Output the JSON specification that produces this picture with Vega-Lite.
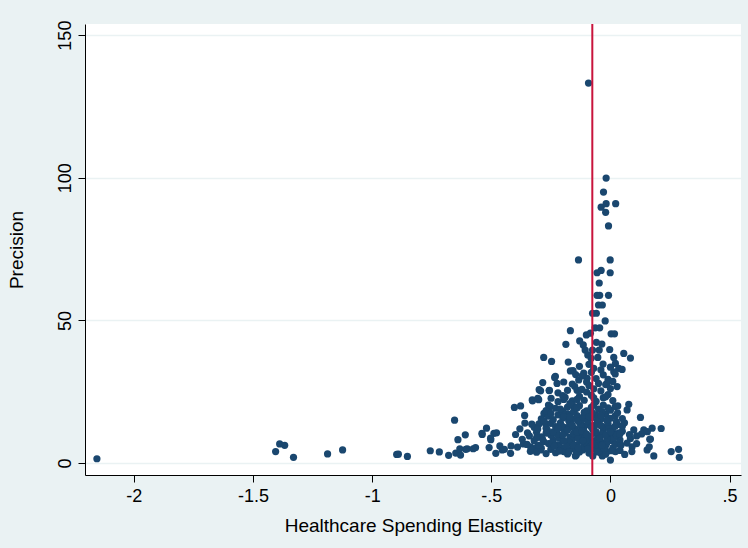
{
  "$schema": "https://vega.github.io/schema/vega-lite/v6.json",
  "width": 656,
  "height": 451,
  "autosize": "none",
  "padding": {"left": 85, "top": 24, "right": 7, "bottom": 73},
  "background": "#eaf2f3",
  "config": {
    "view": {"fill": "white", "stroke": null},
    "font": "Liberation Sans"
  },
  "layer": [
    {
      "data": {"values": [
        {"elasticity": -2.155, "precision": 1.5}, {"elasticity": -1.405, "precision": 4.0}, {"elasticity": -1.388, "precision": 6.7}, {"elasticity": -1.367, "precision": 6.2}, {"elasticity": -1.33, "precision": 2.0}, {"elasticity": -1.187, "precision": 3.2}, {"elasticity": -1.124, "precision": 4.6}, {"elasticity": -0.897, "precision": 3.0}, {"elasticity": -0.89, "precision": 3.1}, {"elasticity": -0.852, "precision": 2.3}, {"elasticity": -0.756, "precision": 4.3}, {"elasticity": -0.718, "precision": 3.9}, {"elasticity": -0.679, "precision": 2.7}, {"elasticity": -0.654, "precision": 15.0}, {"elasticity": -0.64, "precision": 8.2}, {"elasticity": -0.649, "precision": 3.5}, {"elasticity": -0.629, "precision": 2.8}, {"elasticity": -0.632, "precision": 5.0}, {"elasticity": -0.609, "precision": 9.9}, {"elasticity": -0.607, "precision": 4.8}, {"elasticity": -0.601, "precision": 5.0}, {"elasticity": -0.576, "precision": 5.0}, {"elasticity": -0.566, "precision": 5.4}, {"elasticity": -0.538, "precision": 10.0}, {"elasticity": -0.52, "precision": 12.2}, {"elasticity": -0.509, "precision": 5.4}, {"elasticity": -0.502, "precision": 8.2}, {"elasticity": -0.489, "precision": 10.4}, {"elasticity": -0.478, "precision": 10.6}, {"elasticity": -0.481, "precision": 3.4}, {"elasticity": -0.464, "precision": 6.0}, {"elasticity": -0.454, "precision": 4.6}, {"elasticity": -0.445, "precision": 4.8}, {"elasticity": -0.419, "precision": 3.4}, {"elasticity": -0.417, "precision": 6.0}, {"elasticity": -0.403, "precision": 19.5}, {"elasticity": -0.377, "precision": 20.0}, {"elasticity": -0.398, "precision": 10.0}, {"elasticity": -0.39, "precision": 5.6}, {"elasticity": -0.365, "precision": 6.7}, {"elasticity": -0.359, "precision": 14.0}, {"elasticity": -0.348, "precision": 10.6}, {"elasticity": -0.336, "precision": 4.1}, {"elasticity": -0.335, "precision": 5.7}, {"elasticity": -0.307, "precision": 5.7}, {"elasticity": -0.293, "precision": 4.6}, {"elasticity": -0.327, "precision": 21.8}, {"elasticity": -0.301, "precision": 22.2}, {"elasticity": -0.299, "precision": 25.7}, {"elasticity": -0.284, "precision": 28.2}, {"elasticity": -0.257, "precision": 25.4}, {"elasticity": -0.252, "precision": 19.8}, {"elasticity": -0.231, "precision": 30.4}, {"elasticity": -0.224, "precision": 27.9}, {"elasticity": -0.279, "precision": 17.4}, {"elasticity": -0.273, "precision": 13.9},
        {"elasticity": -0.092, "precision": 133.2}, {"elasticity": -0.018, "precision": 99.9}, {"elasticity": -0.029, "precision": 95.0}, {"elasticity": -0.039, "precision": 89.7}, {"elasticity": -0.018, "precision": 90.9}, {"elasticity": 0.022, "precision": 90.9}, {"elasticity": -0.02, "precision": 87.9}, {"elasticity": -0.008, "precision": 83.1}, {"elasticity": -0.134, "precision": 71.2}, {"elasticity": -0.001, "precision": 71.2}, {"elasticity": -0.039, "precision": 67.5}, {"elasticity": -0.056, "precision": 66.7}, {"elasticity": -0.001, "precision": 66.7}, {"elasticity": -0.047, "precision": 63.1}, {"elasticity": -0.056, "precision": 58.8}, {"elasticity": -0.045, "precision": 58.8}, {"elasticity": -0.008, "precision": 58.8}, {"elasticity": -0.05, "precision": 55.4}, {"elasticity": -0.034, "precision": 55.4}, {"elasticity": -0.075, "precision": 52.5}, {"elasticity": -0.059, "precision": 52.5}, {"elasticity": -0.022, "precision": 49.8}, {"elasticity": -0.168, "precision": 46.4}, {"elasticity": -0.064, "precision": 47.4}, {"elasticity": -0.045, "precision": 47.4}, {"elasticity": 0.003, "precision": 45.3}, {"elasticity": 0.017, "precision": 45.3}, {"elasticity": -0.101, "precision": 44.9}, {"elasticity": -0.084, "precision": 45.5}, {"elasticity": -0.129, "precision": 42.8}, {"elasticity": -0.114, "precision": 41.4}, {"elasticity": -0.059, "precision": 42.3}, {"elasticity": -0.036, "precision": 41.7}, {"elasticity": -0.187, "precision": 41.6}, {"elasticity": -0.106, "precision": 39.6}, {"elasticity": -0.075, "precision": 39.6}, {"elasticity": -0.047, "precision": 39.6}, {"elasticity": -0.003, "precision": 39.8}, {"elasticity": -0.095, "precision": 37.9}, {"elasticity": -0.081, "precision": 36.7}, {"elasticity": -0.053, "precision": 37.0}, {"elasticity": 0.014, "precision": 37.0}, {"elasticity": 0.056, "precision": 38.4}, {"elasticity": 0.084, "precision": 36.8}, {"elasticity": -0.28, "precision": 37.0}, {"elasticity": -0.247, "precision": 35.6}, {"elasticity": -0.177, "precision": 35.4}, {"elasticity": 0.021, "precision": 34.9}, {"elasticity": -0.07, "precision": 33.2}, {"elasticity": -0.031, "precision": 34.7}, {"elasticity": 0.035, "precision": 33.2}, {"elasticity": 0.049, "precision": 32.8}, {"elasticity": -0.157, "precision": 32.4}, {"elasticity": -0.112, "precision": 31.5}, {"elasticity": 0.014, "precision": 32.0}, {"elasticity": -0.146, "precision": 31.0},
        {"elasticity": -0.234, "precision": 30.0}, {"elasticity": -0.196, "precision": 28.4}, {"elasticity": -0.168, "precision": 32.3}, {"elasticity": -0.133, "precision": 29.1}, {"elasticity": -0.098, "precision": 29.7}, {"elasticity": -0.014, "precision": 27.9}, {"elasticity": 0.028, "precision": 26.8}, {"elasticity": -0.293, "precision": 25.3}, {"elasticity": -0.256, "precision": 25.5}, {"elasticity": -0.328, "precision": 22.1}, {"elasticity": -0.305, "precision": 22.7}, {"elasticity": -0.249, "precision": 22.7}, {"elasticity": -0.196, "precision": 22.3}, {"elasticity": -0.14, "precision": 25.5}, {"elasticity": -0.154, "precision": 19.9}, {"elasticity": 0.031, "precision": 20.0}, {"elasticity": 0.077, "precision": 20.6}, {"elasticity": 0.126, "precision": 16.0}, {"elasticity": 0.059, "precision": 14.1}, {"elasticity": 0.098, "precision": 11.6}, {"elasticity": 0.14, "precision": 11.6}, {"elasticity": 0.175, "precision": 12.2}, {"elasticity": 0.213, "precision": 12.1}, {"elasticity": 0.165, "precision": 8.3}, {"elasticity": 0.154, "precision": 4.6}, {"elasticity": 0.182, "precision": 2.5}, {"elasticity": 0.255, "precision": 4.0}, {"elasticity": 0.286, "precision": 4.8}, {"elasticity": 0.289, "precision": 2.0}, {"elasticity": 0.0, "precision": 1.05}, {"elasticity": -0.039, "precision": 3.4}, {"elasticity": -0.143, "precision": 2.8}, {"elasticity": -0.196, "precision": 4.0}, {"elasticity": -0.539, "precision": 10.4}, {"elasticity": -0.503, "precision": 8.7}, {"elasticity": 0.131, "precision": 10.2}, {"elasticity": 0.155, "precision": 11.0}, {"elasticity": 0.168, "precision": 8.4}, {"elasticity": 0.163, "precision": 5.7}, {"elasticity": 0.084, "precision": 8.6}, {"elasticity": 0.091, "precision": 5.7}, {"elasticity": 0.035, "precision": 10.6}, {"elasticity": -0.034, "precision": 2.5}, {"elasticity": -0.074, "precision": 2.5}, {"elasticity": -0.116, "precision": 4.6}, {"elasticity": -0.147, "precision": 2.5}, {"elasticity": -0.192, "precision": 4.6}, {"elasticity": -0.049, "precision": 4.0}, {"elasticity": -0.014, "precision": 4.0}, {"elasticity": 0.021, "precision": 4.0}, {"elasticity": 0.025, "precision": 6.7}, {"elasticity": 0.07, "precision": 18.6},
        {"elasticity": -0.33, "precision": 4.5}, {"elasticity": -0.31, "precision": 3.8}, {"elasticity": -0.29, "precision": 5.2}, {"elasticity": -0.27, "precision": 3.3}, {"elasticity": -0.25, "precision": 4.8}, {"elasticity": -0.23, "precision": 3.6}, {"elasticity": -0.21, "precision": 5.5}, {"elasticity": -0.18, "precision": 3.2}, {"elasticity": -0.16, "precision": 5.0}, {"elasticity": -0.13, "precision": 3.9}, {"elasticity": -0.11, "precision": 5.8}, {"elasticity": -0.09, "precision": 3.5}, {"elasticity": -0.07, "precision": 4.9}, {"elasticity": -0.05, "precision": 5.6}, {"elasticity": -0.02, "precision": 3.1}, {"elasticity": 0.01, "precision": 5.3}, {"elasticity": 0.04, "precision": 4.4}, {"elasticity": 0.06, "precision": 3.0}, {"elasticity": 0.09, "precision": 4.0},
        {"elasticity": -0.35, "precision": 6.5}, {"elasticity": -0.32, "precision": 7.8}, {"elasticity": -0.3, "precision": 6.2}, {"elasticity": -0.28, "precision": 7.5}, {"elasticity": -0.26, "precision": 6.8}, {"elasticity": -0.24, "precision": 8.1}, {"elasticity": -0.22, "precision": 6.4}, {"elasticity": -0.2, "precision": 7.7}, {"elasticity": -0.18, "precision": 6.9}, {"elasticity": -0.16, "precision": 8.2}, {"elasticity": -0.14, "precision": 6.3}, {"elasticity": -0.12, "precision": 7.6}, {"elasticity": -0.1, "precision": 6.7}, {"elasticity": -0.08, "precision": 8.0}, {"elasticity": -0.06, "precision": 6.5}, {"elasticity": -0.04, "precision": 7.4}, {"elasticity": -0.02, "precision": 6.1}, {"elasticity": 0.0, "precision": 7.9}, {"elasticity": 0.02, "precision": 6.6}, {"elasticity": 0.04, "precision": 8.1}, {"elasticity": 0.07, "precision": 7.0}, {"elasticity": 0.11, "precision": 6.8},
        {"elasticity": -0.34, "precision": 9.5}, {"elasticity": -0.31, "precision": 10.8}, {"elasticity": -0.29, "precision": 9.2}, {"elasticity": -0.27, "precision": 10.5}, {"elasticity": -0.25, "precision": 9.8}, {"elasticity": -0.23, "precision": 11.2}, {"elasticity": -0.21, "precision": 9.4}, {"elasticity": -0.19, "precision": 10.6}, {"elasticity": -0.17, "precision": 9.1}, {"elasticity": -0.15, "precision": 11.0}, {"elasticity": -0.13, "precision": 9.7}, {"elasticity": -0.11, "precision": 10.9}, {"elasticity": -0.09, "precision": 9.3}, {"elasticity": -0.07, "precision": 10.4}, {"elasticity": -0.05, "precision": 9.6}, {"elasticity": -0.03, "precision": 11.3}, {"elasticity": -0.01, "precision": 9.0}, {"elasticity": 0.01, "precision": 10.7}, {"elasticity": 0.03, "precision": 9.4}, {"elasticity": 0.05, "precision": 11.1}, {"elasticity": 0.08, "precision": 10.0}, {"elasticity": 0.11, "precision": 9.5},
        {"elasticity": -0.32, "precision": 12.5}, {"elasticity": -0.3, "precision": 13.7}, {"elasticity": -0.27, "precision": 12.2}, {"elasticity": -0.25, "precision": 13.9}, {"elasticity": -0.23, "precision": 12.8}, {"elasticity": -0.21, "precision": 14.1}, {"elasticity": -0.19, "precision": 12.4}, {"elasticity": -0.17, "precision": 13.6}, {"elasticity": -0.15, "precision": 12.1}, {"elasticity": -0.13, "precision": 14.3}, {"elasticity": -0.11, "precision": 12.9}, {"elasticity": -0.09, "precision": 13.4}, {"elasticity": -0.07, "precision": 12.3}, {"elasticity": -0.05, "precision": 14.0}, {"elasticity": -0.03, "precision": 12.7}, {"elasticity": -0.01, "precision": 13.8}, {"elasticity": 0.01, "precision": 12.2}, {"elasticity": 0.03, "precision": 13.5}, {"elasticity": 0.05, "precision": 12.9},
        {"elasticity": -0.29, "precision": 15.5}, {"elasticity": -0.26, "precision": 16.4}, {"elasticity": -0.24, "precision": 15.2}, {"elasticity": -0.22, "precision": 16.9}, {"elasticity": -0.2, "precision": 15.8}, {"elasticity": -0.18, "precision": 17.2}, {"elasticity": -0.16, "precision": 15.4}, {"elasticity": -0.14, "precision": 16.6}, {"elasticity": -0.12, "precision": 15.1}, {"elasticity": -0.1, "precision": 17.0}, {"elasticity": -0.08, "precision": 15.9}, {"elasticity": -0.06, "precision": 16.8}, {"elasticity": -0.04, "precision": 15.3}, {"elasticity": -0.02, "precision": 17.1}, {"elasticity": 0.0, "precision": 15.7}, {"elasticity": 0.02, "precision": 16.5}, {"elasticity": 0.05, "precision": 15.6},
        {"elasticity": -0.27, "precision": 18.4}, {"elasticity": -0.23, "precision": 19.2}, {"elasticity": -0.2, "precision": 18.1}, {"elasticity": -0.18, "precision": 19.6}, {"elasticity": -0.15, "precision": 18.7}, {"elasticity": -0.13, "precision": 20.1}, {"elasticity": -0.1, "precision": 18.3}, {"elasticity": -0.08, "precision": 19.5}, {"elasticity": -0.05, "precision": 18.9}, {"elasticity": -0.03, "precision": 20.3}, {"elasticity": 0.0, "precision": 18.5}, {"elasticity": 0.02, "precision": 19.8},
        {"elasticity": -0.22, "precision": 21.5}, {"elasticity": -0.19, "precision": 23.0}, {"elasticity": -0.16, "precision": 21.8}, {"elasticity": -0.13, "precision": 23.4}, {"elasticity": -0.11, "precision": 22.0}, {"elasticity": -0.08, "precision": 23.8}, {"elasticity": -0.06, "precision": 21.6}, {"elasticity": -0.03, "precision": 22.9}, {"elasticity": -0.01, "precision": 24.0}, {"elasticity": 0.01, "precision": 21.9},
        {"elasticity": -0.18, "precision": 25.5}, {"elasticity": -0.15, "precision": 26.9}, {"elasticity": -0.12, "precision": 25.8}, {"elasticity": -0.09, "precision": 27.2}, {"elasticity": -0.07, "precision": 26.0}, {"elasticity": -0.04, "precision": 25.3}, {"elasticity": -0.02, "precision": 27.5}, {"elasticity": 0.0, "precision": 26.1},
        {"elasticity": -0.12, "precision": 30.5}, {"elasticity": -0.08, "precision": 31.8}, {"elasticity": -0.06, "precision": 29.6}, {"elasticity": -0.03, "precision": 30.9}, {"elasticity": -0.01, "precision": 29.3}, {"elasticity": 0.02, "precision": 31.2},
        {"elasticity": -0.215, "precision": 8.7}, {"elasticity": -0.195, "precision": 11.8}, {"elasticity": -0.175, "precision": 7.3}, {"elasticity": -0.155, "precision": 10.2}, {"elasticity": -0.135, "precision": 8.6}, {"elasticity": -0.115, "precision": 11.7}, {"elasticity": -0.095, "precision": 7.2}, {"elasticity": -0.075, "precision": 11.9}, {"elasticity": -0.055, "precision": 8.4}, {"elasticity": -0.035, "precision": 10.1}, {"elasticity": -0.015, "precision": 7.0}, {"elasticity": 0.005, "precision": 11.5}, {"elasticity": -0.205, "precision": 13.1}, {"elasticity": -0.185, "precision": 5.8}, {"elasticity": -0.165, "precision": 12.8}, {"elasticity": -0.145, "precision": 4.4}, {"elasticity": -0.125, "precision": 13.0}, {"elasticity": -0.105, "precision": 8.9}, {"elasticity": -0.085, "precision": 5.9}, {"elasticity": -0.065, "precision": 13.2}, {"elasticity": -0.045, "precision": 8.8}, {"elasticity": -0.025, "precision": 5.2}, {"elasticity": -0.005, "precision": 12.1}, {"elasticity": 0.015, "precision": 8.9}, {"elasticity": -0.225, "precision": 10.2}, {"elasticity": -0.245, "precision": 7.1}, {"elasticity": -0.265, "precision": 11.6}, {"elasticity": -0.285, "precision": 8.4}, {"elasticity": -0.305, "precision": 11.9}, {"elasticity": -0.195, "precision": 16.2}, {"elasticity": -0.175, "precision": 14.8}, {"elasticity": -0.155, "precision": 17.9}, {"elasticity": -0.135, "precision": 14.7}, {"elasticity": -0.115, "precision": 16.1}, {"elasticity": -0.095, "precision": 14.6}, {"elasticity": -0.075, "precision": 17.5}, {"elasticity": -0.055, "precision": 14.9}, {"elasticity": -0.035, "precision": 18.0}, {"elasticity": -0.015, "precision": 15.0}, {"elasticity": 0.025, "precision": 14.4},
        {"elasticity": -0.235, "precision": 5.9}, {"elasticity": -0.215, "precision": 4.2}, {"elasticity": -0.195, "precision": 7.9}, {"elasticity": -0.175, "precision": 3.9}, {"elasticity": -0.155, "precision": 6.2}, {"elasticity": -0.135, "precision": 5.3}, {"elasticity": -0.115, "precision": 7.9}, {"elasticity": -0.095, "precision": 5.0}, {"elasticity": -0.075, "precision": 6.8}, {"elasticity": -0.055, "precision": 3.9}, {"elasticity": -0.035, "precision": 6.2}, {"elasticity": -0.015, "precision": 8.6}, {"elasticity": 0.005, "precision": 4.3}, {"elasticity": 0.025, "precision": 9.8}, {"elasticity": 0.045, "precision": 6.3},
        {"elasticity": -0.24, "precision": 10.9}, {"elasticity": -0.22, "precision": 12.0}, {"elasticity": -0.2, "precision": 9.9}, {"elasticity": -0.18, "precision": 11.6}, {"elasticity": -0.16, "precision": 13.3}, {"elasticity": -0.14, "precision": 10.8}, {"elasticity": -0.12, "precision": 11.3}, {"elasticity": -0.1, "precision": 10.1}, {"elasticity": -0.08, "precision": 12.6}, {"elasticity": -0.06, "precision": 10.9}, {"elasticity": -0.04, "precision": 13.1}, {"elasticity": -0.02, "precision": 9.9}, {"elasticity": 0.0, "precision": 11.0}, {"elasticity": 0.02, "precision": 12.9}, {"elasticity": 0.04, "precision": 10.2},
        {"elasticity": -0.25, "precision": 17.4}, {"elasticity": -0.21, "precision": 18.9}, {"elasticity": -0.17, "precision": 16.1}, {"elasticity": -0.14, "precision": 19.3}, {"elasticity": -0.11, "precision": 17.8}, {"elasticity": -0.09, "precision": 16.3}, {"elasticity": -0.07, "precision": 20.4}, {"elasticity": -0.04, "precision": 16.7}, {"elasticity": -0.01, "precision": 19.3}, {"elasticity": 0.03, "precision": 17.6},
        {"elasticity": -0.2, "precision": 23.6}, {"elasticity": -0.17, "precision": 20.8}, {"elasticity": -0.14, "precision": 22.3}, {"elasticity": -0.1, "precision": 24.9}, {"elasticity": -0.07, "precision": 22.8}, {"elasticity": -0.05, "precision": 27.9}, {"elasticity": -0.02, "precision": 23.2}, {"elasticity": 0.01, "precision": 28.6}, {"elasticity": -0.16, "precision": 27.7}, {"elasticity": -0.1, "precision": 28.4}, {"elasticity": -0.04, "precision": 32.7}, {"elasticity": 0.0, "precision": 33.6}, {"elasticity": -0.09, "precision": 34.6}, {"elasticity": -0.13, "precision": 33.9},
        {"elasticity": -0.31, "precision": 8.9}, {"elasticity": -0.33, "precision": 13.6}, {"elasticity": -0.28, "precision": 14.9}, {"elasticity": -0.26, "precision": 20.3}, {"elasticity": -0.22, "precision": 24.6}, {"elasticity": -0.37, "precision": 8.3}, {"elasticity": -0.38, "precision": 12.0}, {"elasticity": -0.36, "precision": 16.7}
      ]},
      "mark": {"type": "circle", "size": 52, "opacity": 1, "color": "#1a476f"},
      "encoding": {
        "x": {
          "field": "elasticity", "type": "quantitative",
          "scale": {"domain": [-2.205, 0.548], "nice": false, "zero": false},
          "axis": {
            "values": [-2, -1.5, -1, -0.5, 0, 0.5],
            "labelExpr": "datum.value == -0.5 ? '-.5' : datum.value == 0.5 ? '.5' : '' + datum.value",
            "title": "Healthcare Spending Elasticity",
            "grid": false,
            "domainColor": "black", "domainWidth": 1,
            "tickColor": "black", "tickSize": 7, "tickWidth": 1,
            "labelFontSize": 18, "labelColor": "black", "labelPadding": 5,
            "labelFlush": false,
            "titleFontSize": 19, "titleFontWeight": "normal", "titleColor": "black", "titlePadding": 11
          }
        },
        "y": {
          "field": "precision", "type": "quantitative",
          "scale": {"domain": [-4.2, 153.9], "nice": false, "zero": false},
          "axis": {
            "values": [0, 50, 100, 150],
            "title": "Precision",
            "grid": true, "gridColor": "#eaf2f3", "gridWidth": 1.5,
            "domainColor": "black", "domainWidth": 1,
            "tickColor": "black", "tickSize": 7, "tickWidth": 1,
            "labelFontSize": 18, "labelColor": "black", "labelAngle": 270,
            "labelAlign": "center", "labelBaseline": "bottom", "labelPadding": 4,
            "labelFlush": false,
            "titleFontSize": 19, "titleFontWeight": "normal", "titleColor": "black", "titlePadding": 30
          }
        }
      }
    },
    {
      "data": {"values": [{"mean_elasticity": -0.076}]},
      "mark": {"type": "rule", "color": "#c8143c", "strokeWidth": 2},
      "encoding": {
        "x": {"field": "mean_elasticity", "type": "quantitative"}
      }
    }
  ]
}
